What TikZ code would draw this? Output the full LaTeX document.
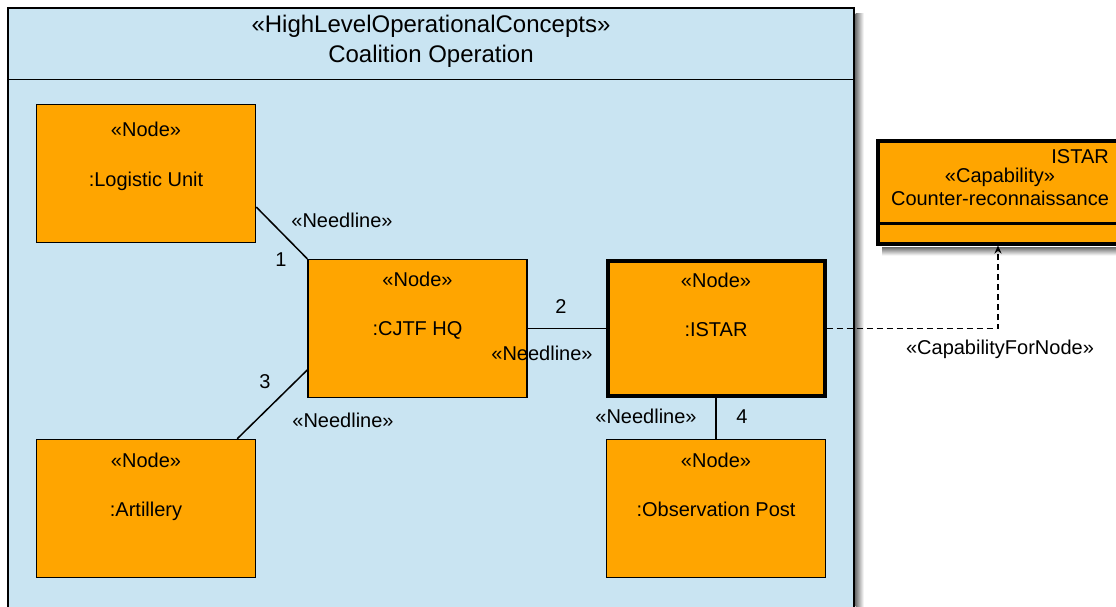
\documentclass[tikz,border=0pt]{standalone}
\usepackage{fontspec}
\setmainfont{Liberation Sans}
\usetikzlibrary{calc}
\usetikzlibrary{arrows.meta}
\definecolor{pkgblue}{RGB}{201,228,242}
\definecolor{nodeorange}{RGB}{255,165,0}
\tikzset{>={Stealth[length=8pt,width=7pt]}}
\tikzstyle{pkgbox}=[draw=black,line width=1.5pt,fill=pkgblue,shape=rectangle,inner sep=0pt]
\tikzstyle{nodebox}=[draw=black,line width=1.5pt,fill=nodeorange,shape=rectangle,inner sep=0pt,minimum width=219pt,minimum height=138pt]
\tikzstyle{keybox}=[nodebox,line width=4pt,minimum width=217pt,minimum height=135pt]
\tikzstyle{capbox}=[draw=black,line width=4pt,fill=nodeorange,shape=rectangle,inner sep=0pt]
\tikzstyle{txt}=[inner sep=0pt,text height=14pt,text depth=4pt]
\tikzstyle{hdrtxt}=[inner sep=0pt,text height=17pt,text depth=5pt,font=\fontsize{24}{28}\selectfont]
\tikzstyle{link}=[line width=1.5pt,color=black]
\tikzstyle{deplink}=[->,line width=1.5pt,color=black,dash pattern=on 6pt off 4pt]

\begin{document}
\begin{tikzpicture}[x=1pt,y=-1pt,font=\fontsize{20}{24}\selectfont]
	\useasboundingbox (0,0) rectangle (1116,606);
	\clip (0,0) rectangle (1116,606);

	% Package
	\node[pkgbox,minimum width=846pt,minimum height=640pt] (coalition) at (431,328) {};
	\shade[left color=black!55,right color=white] ($(coalition.north east)+(0.75,6)$) rectangle ($(coalition.south east)+(9,0)$);
	\draw[link] ($(coalition.north west)+(0,72)$) -- ($(coalition.north east)+(0,72)$);
	\node[hdrtxt] (hdr1) at (431,26) {«HighLevelOperationalConcepts»};
	\node[hdrtxt] (hdr2) at (431,56) {Coalition Operation};

	% Nodes
	\node[nodebox] (logistic) at (146,173.5) {};
	\node[txt] (logistics) at ($(logistic.north)+(0,28)$) {«Node»};
	\node[txt] (logisticn) at ($(logistic.north)+(0,78)$) {:Logistic Unit};

	\node[nodebox] (cjtf) at (417.5,328.5) {};
	\node[txt] (cjtfs) at ($(cjtf.north)+(0,23)$) {«Node»};
	\node[txt] (cjtfn) at ($(cjtf.north)+(0,72)$) {:CJTF HQ};

	\node[keybox] (istar) at (716,328.5) {};
	\node[txt] (istars) at ($(istar.north)+(0,23)$) {«Node»};
	\node[txt] (istarn) at ($(istar.north)+(0,72)$) {:ISTAR};

	\node[nodebox] (artillery) at (146,508.5) {};
	\node[txt] (artilleryst) at ($(artillery.north)+(0,24)$) {«Node»};
	\node[txt] (artilleryn) at ($(artillery.north)+(0,73)$) {:Artillery};

	\node[nodebox] (obspost) at (716,508.5) {};
	\node[txt] (obsposts) at ($(obspost.north)+(0,24)$) {«Node»};
	\node[txt] (obspostn) at ($(obspost.north)+(0,73)$) {:Observation Post};

	% Capability
	\node[capbox,minimum width=240pt,minimum height=103pt] (capab) at (998,192) {};
	\shade[top color=black!55,bottom color=white] ($(capab.south west)+(6,2)$) rectangle ($(capab.south east)+(9,10)$);
	\draw[line width=3pt] ($(capab.south west)+(0,-22)$) -- ($(capab.south east)+(0,-22)$);
	\node[txt,anchor=east] (capabi) at (1109,158) {ISTAR};
	\node[txt] (capabs) at (1000,177) {«Capability»};
	\node[txt] (capabn) at (1000,200) {Counter-reconnaissance};

	% Needlines
	\draw[link] ($(logistic.east)+(0,33.5)$) -- (cjtf.north west);
	\node[txt] (nl1) at (342,222) {«Needline»};
	\node[txt] (n1) at (281,261) {1};
	\draw[link] (cjtf) -- (istar);
	\node[txt] (n2) at (561,308) {2};
	\node[txt] (nl2) at (542,355) {«Needline»};
	\draw[link] ($(artillery.north east)+(-19,0)$) -- ($(cjtf.west)+(0,41.5)$);
	\node[txt] (n3) at (265,383) {3};
	\node[txt] (nl3) at (343,422) {«Needline»};
	\draw[link] (istar.south) -- (obspost.north);
	\node[txt] (nl4) at (646,418) {«Needline»};
	\node[txt] (n4) at (742,418) {4};

	% Capability for node
	\coordinate (bend) at (capab.south |- istar.east);
	\draw[deplink] (istar.east) -- (bend) -- (capab.south);
	\node[txt] (cfn) at (1000,349) {«CapabilityForNode»};
\end{tikzpicture}
\end{document}
